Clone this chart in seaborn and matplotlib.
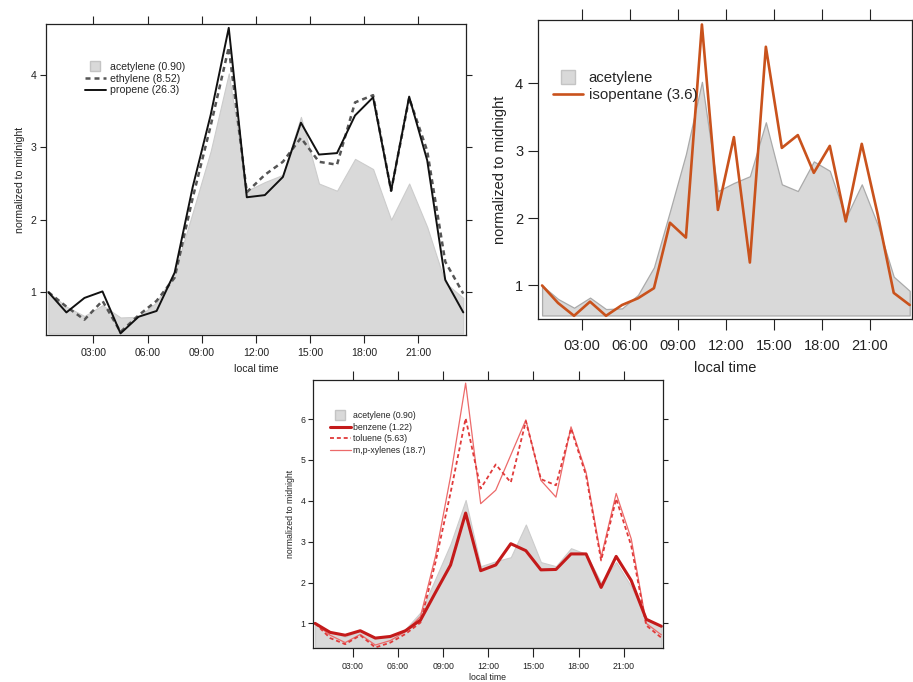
import numpy as np
import seaborn as sns
import matplotlib.pyplot as plt
from matplotlib.lines import Line2D

# =========================
# Data: hourly means, normalized to midnight
# =========================
hours = [0.5, 1.5, 2.5, 3.5, 4.5, 5.5, 6.5, 7.5, 8.5, 9.5, 10.5, 11.5,
         12.5, 13.5, 14.5, 15.5, 16.5, 17.5, 18.5, 19.5, 20.5, 21.5, 22.5, 23.5]
tick_pos = [3, 6, 9, 12, 15, 18, 21]
tick_lbl = ["03:00", "06:00", "09:00", "12:00", "15:00", "18:00", "21:00"]

acetylene = [1.0, 0.80, 0.67, 0.82, 0.65, 0.66, 0.86, 1.27, 2.1, 2.95, 4.02, 2.4,
             2.52, 2.62, 3.42, 2.5, 2.4, 2.84, 2.7, 2.0, 2.5, 1.9, 1.13, 0.92]
ethylene = [1.0, 0.80, 0.62, 0.88, 0.45, 0.68, 0.88, 1.2, 2.3, 3.3, 4.38, 2.38,
            2.62, 2.8, 3.13, 2.8, 2.76, 3.62, 3.72, 2.4, 3.68, 2.95, 1.42, 0.98]
propene = [1.0, 0.72, 0.92, 1.01, 0.43, 0.66, 0.74, 1.27, 2.45, 3.45, 4.65, 2.31,
           2.34, 2.59, 3.34, 2.9, 2.92, 3.44, 3.69, 2.4, 3.7, 2.82, 1.17, 0.72]
isopentane = [1.0, 0.74, 0.55, 0.76, 0.55, 0.71, 0.81, 0.96, 1.93, 1.71, 4.87, 2.12,
              3.2, 1.34, 4.54, 3.04, 3.23, 2.67, 3.07, 1.95, 3.1, 2.05, 0.89, 0.71]
benzene = [1.0, 0.78, 0.71, 0.82, 0.64, 0.68, 0.82, 1.08, 1.76, 2.43, 3.7, 2.29,
           2.43, 2.95, 2.78, 2.31, 2.32, 2.70, 2.70, 1.88, 2.64, 2.05, 1.1, 0.93]
toluene = [1.0, 0.64, 0.49, 0.71, 0.41, 0.53, 0.74, 1.02, 2.5, 4.2, 6.02, 4.3,
           4.89, 4.45, 5.95, 4.53, 4.38, 5.77, 4.62, 2.54, 4.05, 2.9, 0.95, 0.65]
xylenes = [1.0, 0.71, 0.53, 0.73, 0.47, 0.58, 0.8, 1.17, 2.65, 4.6, 6.88, 3.93,
           4.26, 5.12, 5.98, 4.5, 4.09, 5.81, 4.7, 2.62, 4.18, 3.07, 1.0, 0.72]

# =========================
# Style
# =========================
sns.set_style("white")
plt.rcParams["font.family"] = ["Liberation Sans", "DejaVu Sans"]

FILL = "#d9d9d9"
ORANGE = "#c9521c"
DRED = "#c41a1a"
RED = "#e03a3a"
LRED = "#ec6a6a"
INK = "#222222"

fig = plt.figure(figsize=(9.13, 6.82), dpi=100)


def style_axes(ax, fs, xlen, ylen, xpad, ypad, xlabpad, ylim, xlim, yticks):
    ax.set_xlim(*xlim)
    ax.set_ylim(*ylim)
    ax.set_xticks(tick_pos)
    ax.set_xticklabels(tick_lbl)
    ax.set_yticks(yticks)
    ax.set_yticklabels([str(t) for t in yticks])
    ax.tick_params(axis="x", direction="out", length=xlen, width=0.8, labelsize=fs,
                   top=True, bottom=True, labeltop=False, pad=xpad, colors=INK)
    ax.tick_params(axis="y", direction="out", length=ylen, width=0.8, labelsize=fs,
                   left=True, right=True, labelright=False, pad=ypad, colors=INK)
    for s in ax.spines.values():
        s.set_color(INK)
        s.set_linewidth(0.9)
        s.set_visible(True)
    ax.set_xlabel("local time", fontsize=fs, labelpad=xlabpad, color=INK)
    ax.set_ylabel("normalized to midnight", fontsize=fs, color=INK)


def gray_patch(label, size=7):
    return Line2D([], [], marker="s", linestyle="none", markersize=size,
                  markerfacecolor=FILL, markeredgecolor="#c4c4c4", label=label)


# =========================
# Panel 1: ethylene / propene
# =========================
ax1 = fig.add_axes([0.0504, 0.509, 0.460, 0.4555])
ax1.fill_between(hours, acetylene, 0.43, color=FILL, edgecolor="#cccccc", lw=0.8)
sns.lineplot(x=hours, y=ethylene, ax=ax1, color="#555555", lw=1.8,
             linestyle=(0, (2, 1.6)))
sns.lineplot(x=hours, y=propene, ax=ax1, color="#111111", lw=1.4)
style_axes(ax1, 7.6, 5.5, 4.5, 4.0, 2.5, 4.5, (0.41, 4.70), (0.37, 23.65), [1, 2, 3, 4])
ax1.yaxis.labelpad = 4
h1 = [gray_patch("acetylene (0.90)"),
      Line2D([], [], color="#555555", lw=1.8, linestyle=(0, (2, 1.6)), label="ethylene (8.52)"),
      Line2D([], [], color="#111111", lw=1.4, label="propene (26.3)")]
ax1.legend(handles=h1, loc="upper left", bbox_to_anchor=(0.08, 0.895), frameon=False,
           fontsize=7.6, handlelength=2.0, handletextpad=0.4, labelspacing=0.15,
           borderpad=0)

# =========================
# Panel 2: isopentane
# =========================
ax2 = fig.add_axes([0.589, 0.532, 0.4095, 0.438])
ax2.fill_between(hours, acetylene, 0.555, color=FILL, edgecolor="#aaaaaa", lw=0.9)
sns.lineplot(x=hours, y=isopentane, ax=ax2, color=ORANGE, lw=1.9)
style_axes(ax2, 10.5, 8, 7.5, 6.0, 3.0, 6.0, (0.50, 4.93), (0.23, 23.62), [1, 2, 3, 4])
ax2.yaxis.labelpad = 6
h2 = [gray_patch("acetylene", size=10),
      Line2D([], [], color=ORANGE, lw=1.9, label="isopentane (3.6)")]
ax2.legend(handles=h2, loc="upper left", bbox_to_anchor=(0.02, 0.855), frameon=False,
           fontsize=10.8, handlelength=2.0, handletextpad=0.4, labelspacing=0.2,
           borderpad=0)

# =========================
# Panel 3: aromatics
# =========================
ax3 = fig.add_axes([0.343, 0.050, 0.383, 0.393])
ax3.fill_between(hours, acetylene, 0.41, color=FILL, edgecolor="#cccccc", lw=0.8)
sns.lineplot(x=hours, y=xylenes, ax=ax3, color=LRED, lw=0.9)
sns.lineplot(x=hours, y=toluene, ax=ax3, color=RED, lw=1.3, linestyle=(0, (2.2, 1.6)))
sns.lineplot(x=hours, y=benzene, ax=ax3, color=DRED, lw=2.2)
style_axes(ax3, 6.3, 6.5, 3.6, 3.5, 2.0, 1.5, (0.40, 6.96), (0.37, 23.6),
           [1, 2, 3, 4, 5, 6])
ax3.yaxis.labelpad = 4
h3 = [gray_patch("acetylene (0.90)"),
      Line2D([], [], color=DRED, lw=2.2, label="benzene (1.22)"),
      Line2D([], [], color=RED, lw=1.3, linestyle=(0, (2.2, 1.6)), label="toluene (5.63)"),
      Line2D([], [], color=LRED, lw=0.9, label="m,p-xylenes (18.7)")]
ax3.legend(handles=h3, loc="upper left", bbox_to_anchor=(0.035, 0.9), frameon=False,
           fontsize=6.3, handlelength=2.4, handletextpad=0.3, labelspacing=0.3,
           borderpad=0)

plt.savefig("out.png", dpi=100)
plt.close()
